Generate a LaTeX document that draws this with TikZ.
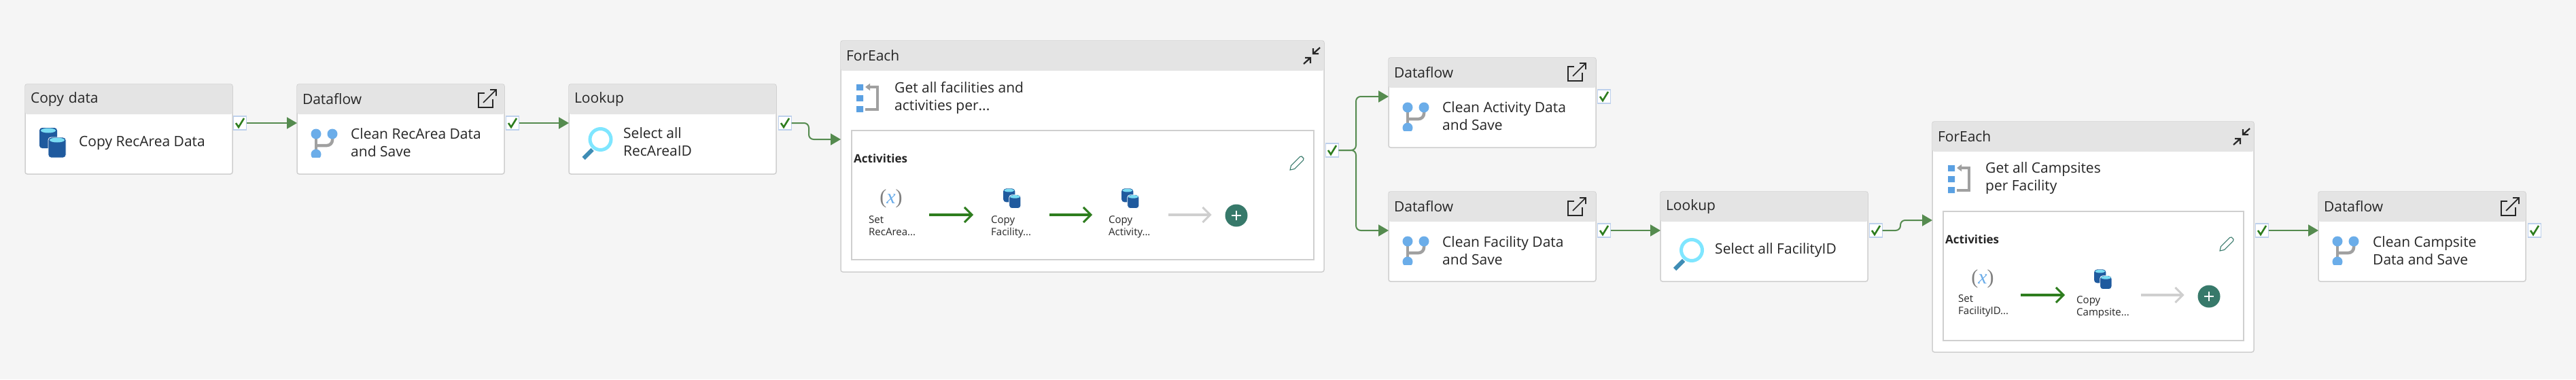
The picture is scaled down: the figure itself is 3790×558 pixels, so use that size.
\documentclass[tikz,border=0pt]{standalone}
\usepackage{fontspec}
\setmainfont{Open Sans}
\newfontfamily\varfont{Liberation Serif}
\usetikzlibrary{arrows.meta}

\definecolor{canvas}{HTML}{F5F5F5}
\definecolor{edgegray}{HTML}{CFCFCF}
\definecolor{headgray}{HTML}{E4E4E4}
\definecolor{inkblack}{HTML}{262626}
\definecolor{linkgreen}{HTML}{558B4F}
\definecolor{tickgreen}{HTML}{2E7D1E}
\definecolor{tickedge}{HTML}{BDD0EC}
\definecolor{cylblue}{HTML}{1F5A9E}
\definecolor{cylcyan}{HTML}{7ADCF2}
\definecolor{flowblue}{HTML}{6BADE9}
\definecolor{barblue}{HTML}{5AA0E2}
\definecolor{pipegray}{HTML}{A0A0A0}
\definecolor{lenscyan}{HTML}{7FE6FF}
\definecolor{handleblue}{HTML}{3F8DB5}
\definecolor{addteal}{HTML}{37796A}

\tikzset{
  actbox/.style={draw=edgegray, line width=1.5pt, fill=white, rounded corners=3pt, anchor=north west,
    minimum width=305pt, minimum height=132pt, inner sep=0pt, outer sep=0pt},
  eachbox/.style={actbox, minimum width=711pt, minimum height=340pt},
  headbox/.style={fill=headgray, rounded corners=3pt, anchor=north west, minimum width=305pt, minimum height=44pt,
    text width=289pt, inner xsep=8pt, inner ysep=0pt, outer sep=0pt, align=left, text=inkblack,
    font=\fontsize{21}{26}\selectfont},
  bodytext/.style={anchor=west, align=left, inner sep=0pt, text=inkblack, font=\fontsize{21}{26}\selectfont},
  smalltext/.style={anchor=west, align=left, inner sep=0pt, text=inkblack, font=\fontsize{15}{18.5}\selectfont},
  innerbox/.style={draw=edgegray, line width=1.5pt, fill=white, anchor=north west, inner sep=0pt, outer sep=0pt},
  slotbox/.style={minimum width=112pt, minimum height=88pt, inner sep=0pt, outer sep=0pt},
  chkbox/.style={draw=tickedge, line width=1.2pt, fill=white, minimum width=19pt, minimum height=20pt,
    inner sep=0pt, outer sep=0pt, path picture={
      \draw[tickgreen, line width=2.6pt, shift={(path picture bounding box.center)}] (-6,0) -- (-2,6) -- (6,-7);}},
  addnode/.style={circle, fill=addteal, minimum size=33pt, inner sep=0pt, outer sep=0pt, path picture={
      \draw[white, line width=2.6pt, shift={(path picture bounding box.center)}] (-7,0) -- (7,0) (0,-7) -- (0,7);}},
  linkline/.style={draw=linkgreen, line width=2pt, -{Triangle[length=15pt, width=17pt]}, rounded corners=7pt},
  innerline/.style={draw=tickgreen, line width=3.5pt, -{Straight Barb[length=11pt, width=22pt, line width=3pt]}},
  openline/.style={innerline, draw=edgegray},
  copyicon/.pic={
    \fill[cylblue, rounded corners=4pt] (-19.5,-22) rectangle (6.5,8);
    \fill[cylcyan] (-6.5,-18) ellipse [x radius=11pt, y radius=3.5pt];
    \draw[white, line width=.8pt, fill=cylblue, rounded corners=4pt] (-6.5,-8) rectangle (19.5,22);
    \fill[cylcyan] (6.5,-4) ellipse [x radius=11pt, y radius=3.5pt];
  },
  flowicon/.pic={
    \draw[pipegray, line width=4.5pt] (0,0) -- (0,30);
    \draw[pipegray, line width=4.5pt, rounded corners=8pt] (24,0) -- (24,17) -- (0,17);
    \fill[flowblue] (0,0) circle [radius=7.5pt] (24,0) circle [radius=7.5pt];
    \begin{scope}
      \clip (-9,20) rectangle (9,34);
      \fill[flowblue] (0,30) circle [radius=7.5pt];
    \end{scope}
  },
  lookicon/.pic={
    \draw[handleblue, line width=6pt] (-12,15) -- (-25,28);
    \draw[lenscyan, line width=5pt] (0,0) circle [radius=15.5pt];
  },
  loopicon/.pic={
    \fill[barblue] (0,0) rectangle (10,9) (0,16) rectangle (10,25) (0,32) rectangle (10,41);
    \draw[pipegray, line width=4pt, -{Triangle[length=7pt, width=10pt]}] (13,37) -- (31,37) -- (31,4) -- (13,4);
  },
  varicon/.pic={
    \node[font=\varfont\fontsize{30}{30}\selectfont, inner sep=0pt] {\textcolor{gray}{(}\textcolor{flowblue}{\itshape x}\textcolor{gray}{)}};
  },
  openicon/.pic={
    \draw[inkblack, line width=1.7pt] (-4,-8) -- (-13,-8) -- (-13,13) -- (8,13) -- (8,1);
    \draw[inkblack, line width=1.7pt] (-6,6) -- (13,-13) (4,-13) -- (13,-13) -- (13,-4);
  },
  shrinkicon/.pic={
    \draw[inkblack, line width=2.2pt] (12,-12) -- (2,-3) (2,-11) -- (2,-3) -- (10,-3);
    \draw[inkblack, line width=2.2pt] (-12,12) -- (-2,3) (-10,3) -- (-2,3) -- (-2,11);
  },
  penicon/.pic={
    \draw[addteal, line width=1.1pt] (-10,10) -- (-8.5,3.5) -- (4.5,-9.5) -- (7,-10) -- (10,-7) -- (9.5,-4.5) -- (-3.5,8.5) -- cycle;
  }
}

\begin{document}
\begin{tikzpicture}[x=1pt, y=-1pt]
  \useasboundingbox (0,0) rectangle (3790,558);
  \fill[canvas] (0,0) rectangle (3790,558);

  % plain activities
  \foreach \nm/\x/\y/\hd in {copyrec/37/124/Copy data, flowrec/437/124/Dataflow, lookrec/837/124/Lookup,
      flowact/2043/85/Dataflow, flowfac/2043/282/Dataflow, lookfac/2443/282/Lookup, flowcamp/3411/282/Dataflow}{
    \node[actbox] (\nm) at (\x,\y) {};
    \node[headbox] (\nm head) at (\nm.north west) {\hd};
  }

  % loops
  \node[eachbox] (eachrec) at (1237,60) {};
  \node[headbox, minimum width=711pt, text width=695pt] (eachrec head) at (eachrec.north west) {ForEach};
  \node[eachbox, minimum width=473pt, minimum height=339pt] (eachfac) at (2843,179) {};
  \node[headbox, minimum width=473pt, text width=457pt] (eachfac head) at (eachfac.north west) {ForEach};
  \node[innerbox, minimum width=680pt, minimum height=190pt] (innerrec) at (1253,192) {};
  \node[innerbox, minimum width=442pt, minimum height=190pt] (innerfac) at (2859,311) {};

  % icons
  \pic at (77.5,210) {copyicon};
  \foreach \x/\y in {465/197, 2071/158, 2071/355, 3439/355}{ \pic at (\x,\y) {flowicon}; }
  \pic at (883.5,205) {lookicon};
  \pic at (2489,368) {lookicon};
  \pic at (1260,124) {loopicon};
  \pic at (2866,243) {loopicon};
  \foreach \x/\y in {717/145, 2320/106, 2320/304, 3693/304}{ \pic at (\x,\y) {openicon}; }
  \pic at (1930,82) {shrinkicon};
  \pic at (3298,201) {shrinkicon};
  \pic at (1908,240) {penicon};
  \pic at (3276,359) {penicon};

  % texts
  \node[bodytext] (copyrec text) at (116,210) {Copy RecArea Data};
  \node[bodytext] (flowrec text) at (516,210) {Clean RecArea Data\\and Save};
  \node[bodytext] (lookrec text) at (917,209) {Select all\\RecAreaID};
  \node[bodytext] (eachrec text) at (1316,144) {Get all facilities and\\activities per...};
  \node[bodytext] (flowact text) at (2122,171) {Clean Activity Data\\and Save};
  \node[bodytext] (flowfac text) at (2122,369) {Clean Facility Data\\and Save};
  \node[bodytext] (lookfac text) at (2523,368) {Select all FacilityID};
  \node[bodytext] (eachfac text) at (2921,262) {Get all Campsites\\per Facility};
  \node[bodytext] (flowcamp text) at (3491,369) {Clean Campsite\\Data and Save};
  \node[bodytext, font=\fontsize{17}{20}\selectfont\bfseries] (innerrec text) at (1256,233) {Activities};
  \node[bodytext, font=\fontsize{17}{20}\selectfont\bfseries] (innerfac text) at (2862,352) {Activities};

  % inner steps
  \node[slotbox] (setrec) at (1311,316) {};
  \node[slotbox] (copyfacs) at (1488,316) {};
  \node[slotbox] (copyacts) at (1663,316) {};
  \node[addnode] (addrec) at (1819,317) {};
  \node[slotbox] (setfac) at (2917,434) {};
  \node[slotbox] (copycamps) at (3094,434) {};
  \node[addnode] (addfac) at (3250,436) {};

  \pic at (1311,292) {varicon};
  \pic at (2917,410) {varicon};
  \pic[scale=.66] at (1489,292) {copyicon};
  \pic[scale=.66] at (1663,292) {copyicon};
  \pic[scale=.66] at (3094,411) {copyicon};

  \node[smalltext] (setrec text) at (1278,332) {Set\\RecArea...};
  \node[smalltext] (copyfacs text) at (1458,334) {Copy\\Facility...};
  \node[smalltext] (copyacts text) at (1631,334) {Copy\\Activity...};
  \node[smalltext] (setfac text) at (2881,450) {Set\\FacilityID...};
  \node[smalltext] (copycamps text) at (3055,452) {Copy\\Campsite...};

  \draw[innerline] (setrec) -- (copyfacs);
  \draw[innerline] (copyfacs) -- (copyacts);
  \draw[openline, shorten >=20pt] (copyacts) -- (addrec.west |- copyacts);
  \draw[innerline] (setfac) -- (copycamps);
  \draw[openline, shorten >=20pt] (copycamps) -- (addfac.west |- copycamps);

  % success ports
  \foreach \nm/\x/\y in {chkcopy/353/181, chkflow/754/181, chklook/1155/181, chkeach/1960/221, chkact/2360/142,
      chkfac/2360/339, chklookf/2760/339, chkeachf/3328/339, chkcamp/3729/339}{
    \node[chkbox] (\nm) at (\x,\y) {};
  }

  % links
  \coordinate (eachrec in) at (1237,205);
  \coordinate (eachfac in) at (2843,324);
  \draw[linkline] (chkcopy) -- (flowrec.west |- chkcopy);
  \draw[linkline] (chkflow) -- (lookrec.west |- chkflow);
  \draw[linkline] (chklook) -- ++(35,0) |- (eachrec in);
  \draw[linkline] (chkeach) -- ++(35,0) |- (flowact.west |- chkact);
  \draw[linkline] (chkeach) -- ++(35,0) |- (flowfac.west |- chkfac);
  \draw[linkline] (chkfac) -- (lookfac.west |- chkfac);
  \draw[linkline] (chklookf) -- ++(36,0) |- (eachfac in);
  \draw[linkline] (chkeachf) -- (flowcamp.west |- chkeachf);
\end{tikzpicture}
\end{document}
